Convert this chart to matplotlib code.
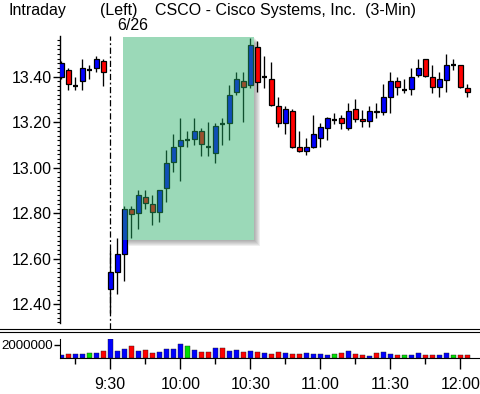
import matplotlib
matplotlib.use("Agg")
import matplotlib.pyplot as plt
from matplotlib.patches import Rectangle
from matplotlib.lines import Line2D
from matplotlib.transforms import ScaledTranslation
import numpy as np

plt.rcParams['font.family'] = ['Liberation Sans', 'DejaVu Sans']

# ---------------- data ----------------
bar_index = list(range(-7, 52))  # 3-min bars; 0 = 9:30 on 6/26
opens = [13.40, 13.43, 13.36, 13.38, 13.43, 13.44, 13.47,
         12.465, 12.54, 12.62, 12.82, 12.80, 12.87, 12.84, 12.805, 12.91, 13.025,
         13.095, 13.12, 13.125, 13.16, 13.09, 13.065, 13.19, 13.195, 13.335, 13.38,
         13.365, 13.53, 13.40, 13.39, 13.27, 13.195, 13.25, 13.09, 13.075, 13.09,
         13.13, 13.175, 13.21, 13.22, 13.175, 13.26, 13.215, 13.205, 13.25, 13.245,
         13.31, 13.38, 13.34, 13.345, 13.407, 13.48, 13.40, 13.355, 13.385, 13.45,
         13.45, 13.35]
highs = [13.47, 13.44, 13.40, 13.48, 13.45, 13.49, 13.48,
         12.64, 12.69, 12.83, 12.83, 12.90, 12.90, 12.88, 12.90, 13.08, 13.15,
         13.22, 13.16, 13.22, 13.175, 13.20, 13.195, 13.22, 13.365, 13.42, 13.42,
         13.57, 13.555, 13.49, 13.465, 13.31, 13.27, 13.26, 13.16, 13.13, 13.23,
         13.195, 13.225, 13.24, 13.23, 13.285, 13.30, 13.255, 13.27, 13.285, 13.37,
         13.42, 13.40, 13.39, 13.44, 13.48, 13.48, 13.45, 13.42, 13.50, 13.48,
         13.45, 13.37]
lows = [13.39, 13.34, 13.34, 13.34, 13.39, 13.42, 13.36,
        12.36, 12.445, 12.50, 12.69, 12.73, 12.82, 12.75, 12.76, 12.85, 12.98,
        12.94, 13.09, 13.10, 13.05, 13.05, 13.02, 13.10, 13.12, 13.32, 13.20,
        13.35, 13.335, 13.35, 13.27, 13.18, 13.15, 13.085, 13.07, 13.055, 13.085,
        13.09, 13.12, 13.19, 13.17, 13.165, 13.20, 13.18, 13.18, 13.22, 13.23,
        13.24, 13.32, 13.33, 13.32, 13.40, 13.40, 13.33, 13.31, 13.335, 13.43,
        13.35, 13.31]
closes = [13.46, 13.37, 13.36, 13.44, 13.43, 13.48, 13.42,
          12.54, 12.62, 12.82, 12.795, 12.88, 12.845, 12.805, 12.90, 13.02, 13.09,
          13.12, 13.12, 13.16, 13.105, 13.09, 13.185, 13.19, 13.32, 13.39, 13.355,
          13.54, 13.375, 13.40, 13.275, 13.195, 13.26, 13.09, 13.075, 13.09, 13.15,
          13.18, 13.22, 13.21, 13.195, 13.25, 13.215, 13.205, 13.25, 13.245, 13.31,
          13.38, 13.355, 13.34, 13.40, 13.44, 13.405, 13.355, 13.39, 13.45, 13.45,
          13.355, 13.335]
volumes = [0.40e6, 0.55e6, 0.55e6, 0.55e6, 0.70e6, 0.70e6, 1.00e6,
           2.85e6, 1.10e6, 1.30e6, 1.80e6, 1.00e6, 1.15e6, 0.70e6, 0.85e6, 1.30e6, 1.30e6,
           2.05e6, 1.75e6, 1.15e6, 0.85e6, 0.85e6, 1.45e6, 1.45e6, 1.00e6, 1.15e6, 0.85e6,
           1.00e6, 0.85e6, 0.70e6, 0.55e6, 0.85e6, 0.70e6, 0.55e6, 0.55e6, 0.70e6, 0.55e6,
           0.55e6, 0.40e6, 0.55e6, 0.70e6, 1.00e6, 0.55e6, 0.40e6, 0.25e6, 0.70e6, 0.85e6,
           0.55e6, 0.40e6, 0.40e6, 0.40e6, 0.70e6, 0.40e6, 0.40e6, 0.40e6, 0.70e6, 0.40e6,
           0.40e6, 0.40e6]
volume_dir = ['u', 'd', 'u', 'u', 'e', 'u', 'd',
              'u', 'u', 'u', 'd', 'u', 'd', 'd', 'u', 'u', 'u',
              'u', 'e', 'u', 'd', 'd', 'u', 'd', 'u', 'u', 'd',
              'u', 'd', 'u', 'd', 'd', 'u', 'd', 'd', 'u', 'u',
              'u', 'u', 'e', 'd', 'u', 'd', 'd', 'u', 'd', 'u',
              'u', 'd', 'e', 'u', 'u', 'd', 'd', 'u', 'u', 'e',
              'd', 'd']
price_ticks = [12.40, 12.60, 12.80, 13.00, 13.20, 13.40]
time_tick_pos = [0, 10, 20, 30, 40, 50]
time_tick_labels = ["9:30", "10:00", "10:30", "11:00", "11:30", "12:00"]
time_minor_pos = [-5, 5, 15, 25, 35, 45]
highlight_x = (1.77, 20.5)
highlight_y = (12.682, 13.576)

# ---------------- layout ----------------
W, H = 480, 394
fig = plt.figure(figsize=(W / 100, H / 100), dpi=100)

def fx(px):
    return px / W

def fy(py):
    return 1 - py / H

BLUE = '#0000ff'
RED = '#ff0000'
GREEN = '#00e000'

ax = fig.add_axes([fx(60), fy(329), fx(420), (329 - 36) / H])
ax.set_xlim(-7.186, 52.814)
ax.set_ylim(12.291, 13.579)
for s in ['top', 'right', 'bottom']:
    ax.spines[s].set_visible(False)
ax.spines['left'].set_linewidth(1.0)
ax.spines['left'].set_bounds(12.317, 13.579)
ax.set_xticks([])
ax.set_yticks(price_ticks)
ax.set_yticklabels(["%.2f" % v for v in price_ticks])
ax.set_yticks(np.round(np.arange(12.32, 13.58, 0.02), 2), minor=True)
ax.tick_params(axis='y', which='major', direction='out', length=5, width=1.0,
               pad=1, labelsize=11.5)
ax.tick_params(axis='y', which='minor', direction='out', length=2.2, width=0.8)

bw = 0.72
for i, o, h, l, c in zip(bar_index, opens, highs, lows, closes):
    ax.plot([i, i], [l, h], color='black', lw=0.95, zorder=2, solid_capstyle='butt')
    if abs(c - o) < 1e-9:
        ax.plot([i - bw / 2, i + bw / 2], [o, o], color='black', lw=1.6, zorder=3,
                solid_capstyle='butt')
    else:
        col = BLUE if c > o else RED
        ax.add_patch(Rectangle((i - bw / 2, min(o, c)), bw, abs(c - o),
                               facecolor=col, edgecolor='black', lw=0.9, zorder=3))

# highlight box with drop shadow
hx0, hx1 = highlight_x
hy0, hy1 = highlight_y
for k in range(1, 7):
    off = ScaledTranslation(k / 100, -k / 100, fig.dpi_scale_trans)
    ax.add_patch(Rectangle((hx0, hy0), hx1 - hx0, hy1 - hy0, facecolor='#505050',
                           edgecolor='none', alpha=0.09, zorder=0.5,
                           transform=ax.transData + off, clip_on=False))
ax.add_patch(Rectangle((hx0, hy0), hx1 - hx0, hy1 - hy0, facecolor='white',
                       edgecolor='none', zorder=0.6))
ax.add_patch(Rectangle((hx0, hy0), hx1 - hx0, hy1 - hy0, facecolor=(37 / 255, 174 / 255, 102 / 255),
                       edgecolor='none', alpha=0.46, zorder=5))

ax.axvline(0, color='black', lw=0.9, ls=(0, (5, 2, 1.5, 2)), zorder=1)

# volume panel
axv = fig.add_axes([fx(60), fy(358), fx(420), 19 / H])
axv.set_xlim(-7.186, 52.814)
axv.set_ylim(0, 2.85e6)
for s in ['top', 'right']:
    axv.spines[s].set_visible(False)
cmap = {'u': BLUE, 'd': RED, 'e': GREEN}
axv.bar(bar_index, volumes, width=0.72, color=[cmap[d] for d in volume_dir],
        edgecolor='#202020', lw=0.3, zorder=2)
axv.axvline(0, color='black', lw=0.9, ls=(0, (5, 2, 1.5, 2)), zorder=1)
axv.set_yticks([2000000])
axv.set_yticklabels(["2000000"])
axv.tick_params(axis='y', direction='out', length=4, width=1.0, pad=1, labelsize=9.6)
axv.set_xticks(time_tick_pos)
axv.set_xticklabels(time_tick_labels)
axv.set_xticks(time_minor_pos, minor=True)
axv.tick_params(axis='x', which='major', direction='out', length=8, width=1.0,
                pad=6, labelsize=11.5)
axv.tick_params(axis='x', which='minor', direction='out', length=4.5, width=1.0)

# double separator line
for yy in (328.5, 331.5):
    fig.add_artist(Line2D([0, 1], [fy(yy), fy(yy)], color='black', lw=0.8))

# titles
fig.text(fx(8), fy(10), "Intraday", ha='left', va='center', fontsize=11.5)
fig.text(fx(100), fy(10), "(Left)", ha='left', va='center', fontsize=11.5)
fig.text(fx(155), fy(10), "CSCO - Cisco Systems, Inc.  (3-Min)", ha='left', va='center',
         fontsize=11.5)
fig.text(fx(117), fy(25), "6/26", ha='left', va='center', fontsize=11.5)

fig.savefig("out.png", dpi=100)
